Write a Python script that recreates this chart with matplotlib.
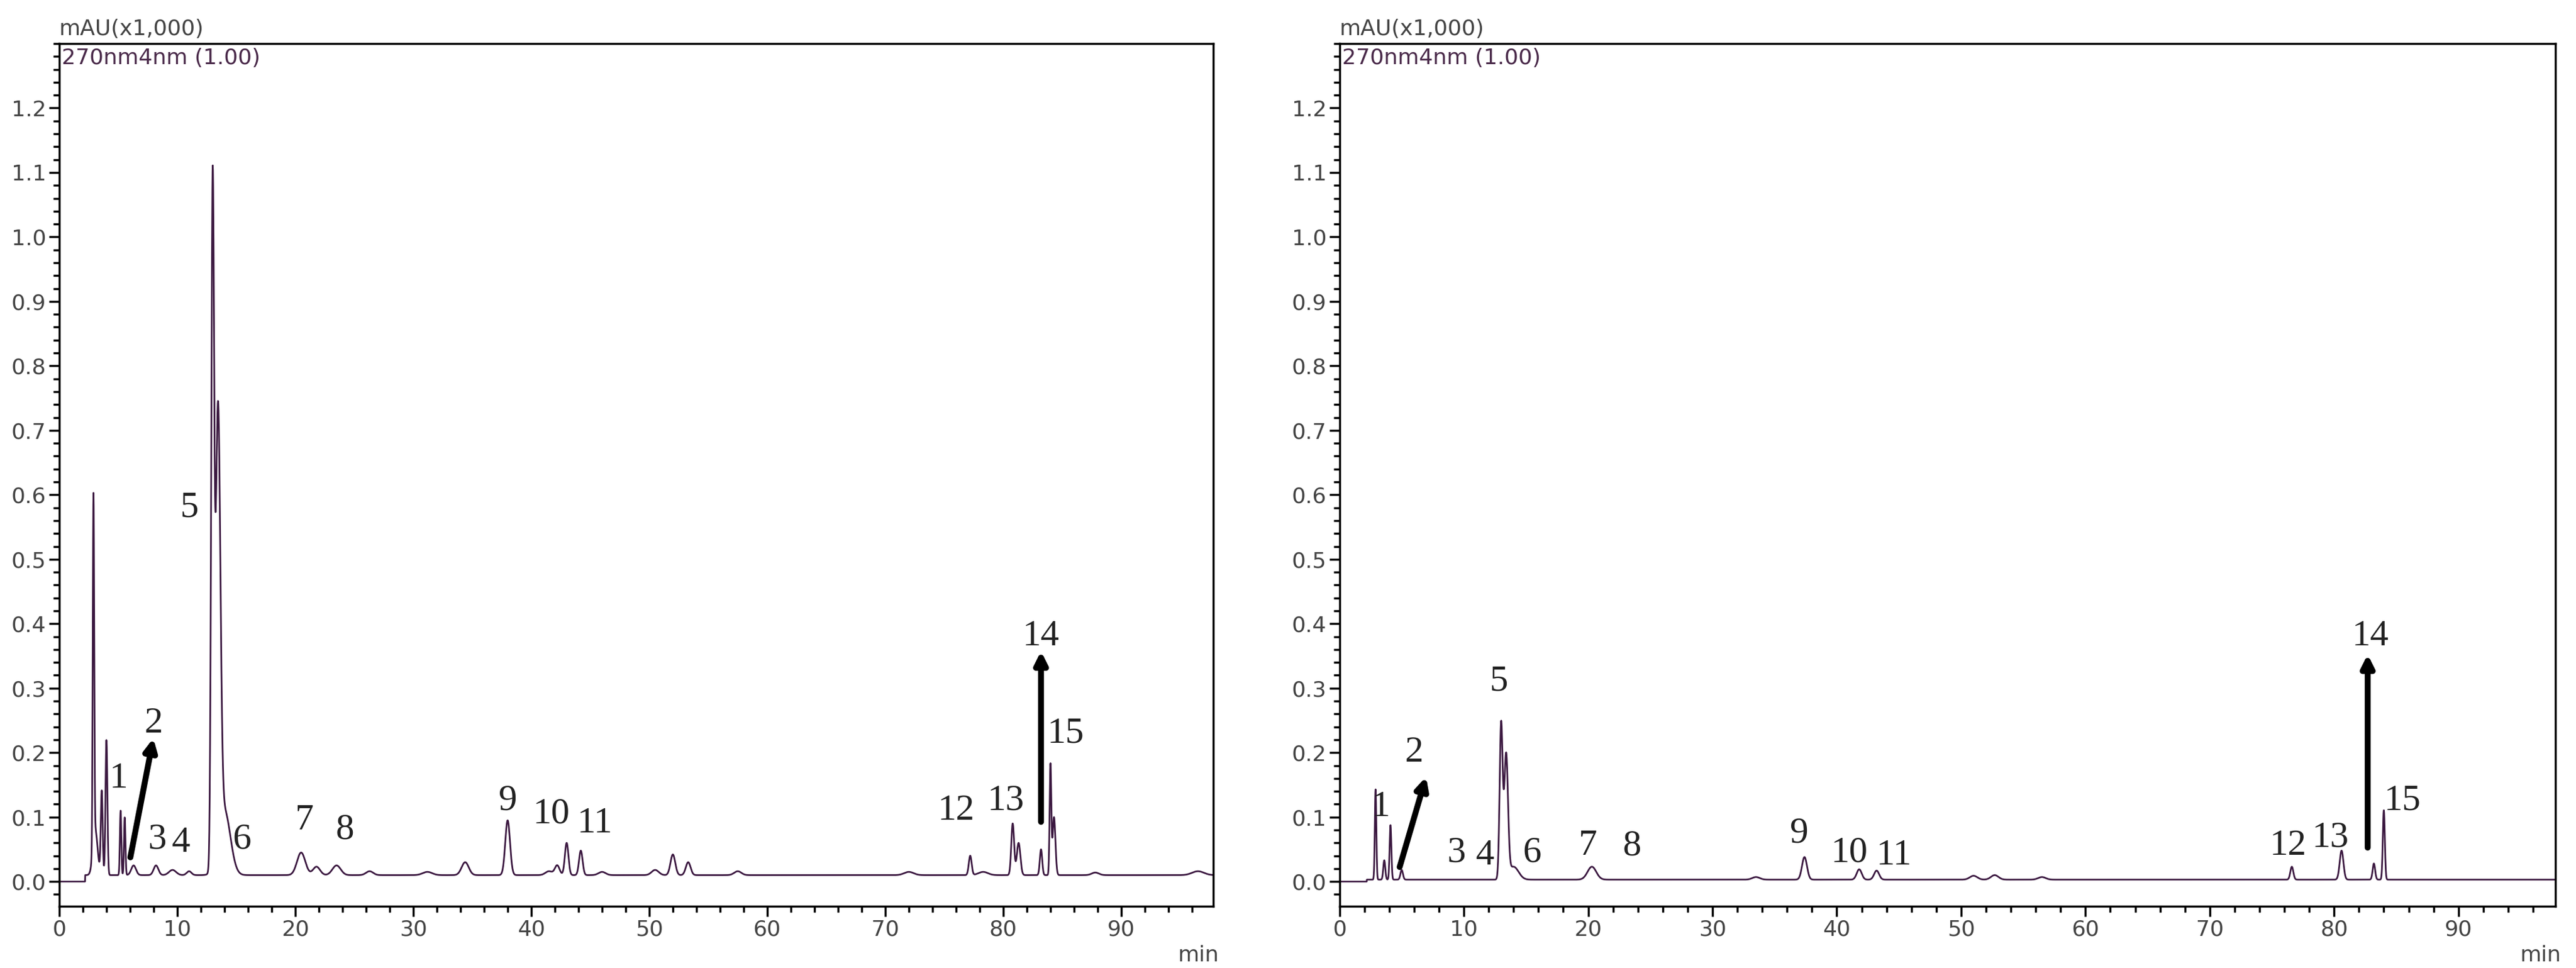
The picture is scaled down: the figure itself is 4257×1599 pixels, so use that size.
import numpy as np
import matplotlib.pyplot as plt
from matplotlib.ticker import MultipleLocator

# peak tables: retention time (min), height (mAU x1000), width (min)
left_rt = [2.9, 3.05, 3.6, 4.0, 5.2, 5.55, 6.3, 8.2, 9.6, 11.0, 13.0, 13.45, 14.0, 20.5, 21.8, 23.5, 26.3,
           31.2, 34.4, 38.0, 41.5, 42.2, 43.0, 44.2, 46.0, 50.5, 52.0, 53.3, 57.5, 72.0, 77.2, 78.3, 80.8, 81.3,
           83.2, 84.0, 84.3, 87.8, 96.5]
left_h = [0.54, 0.07, 0.13, 0.21, 0.1, 0.09, 0.015, 0.015, 0.008, 0.006, 1.03, 0.68, 0.1, 0.035, 0.013, 0.015, 0.006,
          0.005, 0.02, 0.085, 0.006, 0.015, 0.05, 0.038, 0.005, 0.008, 0.032, 0.02, 0.006, 0.005, 0.03, 0.005, 0.08, 0.05,
          0.04, 0.17, 0.09, 0.004, 0.006]
left_w = [0.06, 0.2, 0.08, 0.08, 0.06, 0.06, 0.2, 0.2, 0.3, 0.2, 0.12, 0.2, 0.5, 0.35, 0.3, 0.35, 0.3,
          0.4, 0.3, 0.2, 0.3, 0.2, 0.15, 0.15, 0.3, 0.3, 0.2, 0.2, 0.3, 0.4, 0.12, 0.4, 0.12, 0.15,
          0.1, 0.07, 0.12, 0.3, 0.5]

right_rt = [2.9, 3.6, 4.1, 5.0, 13.0, 13.4, 14.0, 20.3, 33.5, 37.4, 41.8, 43.2, 51.0, 52.7, 56.5, 76.6, 80.6, 83.2, 84.0]
right_h = [0.14, 0.03, 0.085, 0.015, 0.24, 0.19, 0.02, 0.02, 0.004, 0.035, 0.016, 0.014, 0.006, 0.007, 0.004,
           0.02, 0.045, 0.025, 0.108]
right_w = [0.06, 0.08, 0.07, 0.1, 0.12, 0.15, 0.4, 0.35, 0.3, 0.2, 0.2, 0.2, 0.3, 0.3, 0.3, 0.12, 0.15, 0.1, 0.08]

peak_labels = ["1", "2", "3", "4", "5", "6", "7", "8", "9", "10", "11", "12", "13", "14", "15"]
left_lx = [5.0, 8.0, 8.3, 10.3, 11.0, 15.5, 20.8, 24.2, 38.0, 41.7, 45.4, 76.0, 80.2, 83.2, 85.3]
left_ly = [0.16, 0.245, 0.065, 0.06, 0.58, 0.065, 0.095, 0.08, 0.125, 0.105, 0.09, 0.11, 0.125, 0.38, 0.23]
right_lx = [3.3, 6.0, 9.4, 11.7, 12.8, 15.5, 20.0, 23.5, 37.0, 41.0, 44.6, 76.3, 79.7, 82.9, 85.5]
right_ly = [0.115, 0.2, 0.045, 0.04, 0.31, 0.045, 0.055, 0.055, 0.075, 0.045, 0.04, 0.055, 0.068, 0.38, 0.125]

LINE = "#3b1840"


def trace(t, rt, h, w, base):
    y = np.where(t > 2.2, base, 0.0)
    for r, a, s in zip(rt, h, w):
        y = y + a * np.exp(-0.5 * ((t - r) / s) ** 2)
    return y


def panel(ax, rt, h, w, base, lx, ly, arrows):
    t = np.linspace(0, 97.8, 6000)
    ax.plot(t, trace(t, rt, h, w, base), color=LINE, lw=2)
    ax.set_xlim(0, 97.8)
    ax.set_ylim(-0.038, 1.30)
    ax.xaxis.set_minor_locator(MultipleLocator(2))
    ax.yaxis.set_minor_locator(MultipleLocator(0.02))
    ax.set_xticks([0, 10, 20, 30, 40, 50, 60, 70, 80, 90])
    ax.set_yticks(np.arange(0, 1.21, 0.1))
    ax.set_yticklabels([f"{v:.1f}" for v in np.arange(0, 1.21, 0.1)])
    ax.tick_params(which="major", length=12, width=2.5, labelsize=26, labelcolor="#444444")
    ax.tick_params(which="minor", length=7, width=2.5)
    for s in ax.spines.values():
        s.set_linewidth(2.5)
    ax.text(0.0, 1.005, "mAU(x1,000)", transform=ax.transAxes, fontsize=26, color="#444444", va="bottom")
    ax.text(0.002, 0.995, "270nm4nm (1.00)", transform=ax.transAxes, fontsize=26, color="#4a2a4a", va="top")
    ax.text(1.005, -0.045, "min", transform=ax.transAxes, fontsize=26, color="#444444", ha="right", va="top")
    for lab, x, y in zip(peak_labels, lx, ly):
        ax.text(x, y, lab, fontsize=44, family="Liberation Serif", ha="center", va="center", color="#222222")
    for (x0, y0, x1, y1) in arrows:
        ax.annotate("", xy=(x1, y1), xytext=(x0, y0),
                    arrowprops=dict(arrowstyle="-|>,head_length=1.2,head_width=0.6", lw=7, color="black"))


fig = plt.figure(figsize=(42.57, 15.99), dpi=100)
ax1 = fig.add_axes([0.023, 0.064, 0.448, 0.891])
ax2 = fig.add_axes([0.520, 0.064, 0.472, 0.891])
panel(ax1, left_rt, left_h, left_w, 0.01, left_lx, left_ly, [(6.0, 0.035, 8.0, 0.225), (83.2, 0.09, 83.2, 0.36)])
panel(ax2, right_rt, right_h, right_w, 0.003, right_lx, right_ly, [(4.8, 0.02, 7.0, 0.165), (82.7, 0.05, 82.7, 0.355)])
fig.savefig("out.png", dpi=100, facecolor="white")
